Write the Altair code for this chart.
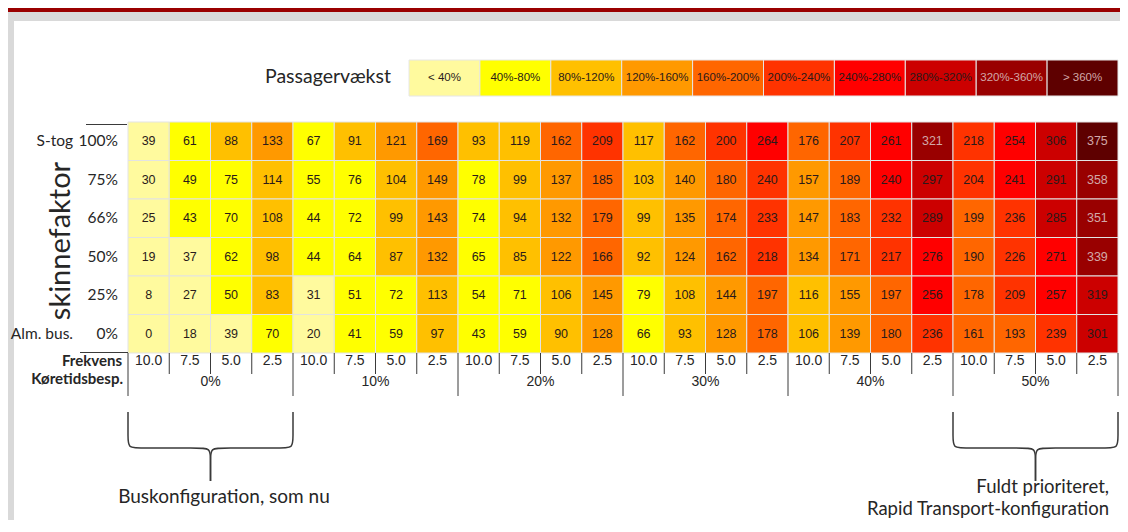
import altair as alt
import pandas as pd

# ---------------- data ----------------
row_labels = ["100%", "75%", "66%", "50%", "25%", "0%"]
row_prefix = ["S-tog", "", "", "", "", "Alm. bus."]
savings = ["0%", "10%", "20%", "30%", "40%", "50%"]
frequencies = ["10.0", "7.5", "5.0", "2.5"]

growth_100 = [39, 61, 88, 133, 67, 91, 121, 169, 93, 119, 162, 209, 117, 162, 200, 264, 176, 207, 261, 321, 218, 254, 306, 375]
growth_75 = [30, 49, 75, 114, 55, 76, 104, 149, 78, 99, 137, 185, 103, 140, 180, 239.6, 157, 189, 240.4, 297, 204, 241, 291, 358]
growth_66 = [25, 43, 70, 108, 44, 72, 99, 143, 74, 94, 132, 179, 99, 135, 174, 233, 147, 183, 232, 289, 199, 236, 285, 351]
growth_50 = [19, 37, 62, 98, 44, 64, 87, 132, 65, 85, 122, 166, 92, 124, 162, 218, 134, 171, 217, 276, 190, 226, 271, 339]
growth_25 = [8, 27, 50, 83, 31, 51, 72, 113, 54, 71, 106, 145, 79, 108, 144, 197, 116, 155, 197, 256, 178, 209, 257, 319]
growth_0 = [0, 18, 39, 70, 20, 41, 59, 97, 43, 59, 90, 128, 66, 93, 128, 178, 106, 139, 180, 236, 161, 193, 239, 301]
growth_rows = [growth_100, growth_75, growth_66, growth_50, growth_25, growth_0]

legend_title = "Passagervækst"
legend_labels = ["< 40%", "40%-80%", "80%-120%", "120%-160%", "160%-200%",
                 "200%-240%", "240%-280%", "280%-320%", "320%-360%", "> 360%"]
thresholds = [40, 80, 120, 160, 200, 240, 280, 320, 360]
bin_colors = ["#FFFA9E", "#FFFF00", "#FFC000", "#FF9900", "#FF6600",
              "#FF3300", "#FF0000", "#CC0000", "#990000", "#5E0000"]

y_title = "skinnefaktor"
x_row1_title = "Frekvens"
x_row2_title = "Køretidsbesp."
left_caption = ["Buskonfiguration, som nu"]
right_caption = ["Fuldt prioriteret,", "Rapid Transport-konfiguration"]

# ---------------- layout (page pixels) ----------------
W, H = 990, 231
CW, RH = W / 24, H / 6
GX, GY = 128, 122


def cx(px):
    return (px - GX) / CW


def ry(py):
    return (py - GY) / RH


XS = alt.Scale(domain=[0, 24], nice=False, zero=False)
YS = alt.Scale(domain=[0, 6], nice=False, zero=False, reverse=True)


def X(f):
    return alt.X(f, type="quantitative", scale=XS, axis=None)


def Y(f):
    return alt.Y(f, type="quantitative", scale=YS, axis=None)


CAL = "Lato"
ARIAL = "Liberation Sans"
INK = "#262626"

# ---------------- tables ----------------
cells = []
for r, vals in enumerate(growth_rows):
    for c, v in enumerate(vals):
        cells.append(dict(x=c, x2=c + 1, y=r, y2=r + 1, xc=c + 0.5, yc=r + 0.5,
                          value=v, label=str(int(round(v)))))
cells = pd.DataFrame(cells)

bg = pd.DataFrame([
    dict(x=cx(0), x2=cx(1128), y=ry(0), y2=ry(12), fill="#9A0000"),
    dict(x=cx(5), x2=cx(1128), y=ry(12), y2=ry(21), fill="#D9D9D9"),
    dict(x=cx(5), x2=cx(14), y=ry(12), y2=ry(540), fill="#D9D9D9"),
])

LX0, LW = 409, 70.9
leg = pd.DataFrame([dict(x=cx(LX0 + i * LW), x2=cx(LX0 + (i + 1) * LW),
                         xc=cx(LX0 + (i + 0.5) * LW), y=ry(60), y2=ry(96), yc=ry(78),
                         label=lab, lo=(thresholds[i - 1] if i > 0 else 0))
                    for i, lab in enumerate(legend_labels)])

rowlab = pd.DataFrame([dict(x=cx(118), y=r + 0.5, text=t) for r, t in enumerate(row_labels)])
rowpre = pd.DataFrame([dict(x=cx(73), y=r + 0.5, text=t) for r, t in enumerate(row_prefix) if t])

ticks = []
for b in range(25):
    long_line = b % 4 == 0
    ticks.append(dict(x=b, y=6, y2=ry(396 if long_line else 374)))
ticks = pd.DataFrame(ticks)

freq_lab = pd.DataFrame([dict(x=c + 0.5, y=ry(361), text=frequencies[c % 4]) for c in range(24)])
grp_lab = pd.DataFrame([dict(x=g * 4 + 2, y=ry(382), text=s) for g, s in enumerate(savings)])
xtitles = pd.DataFrame([dict(x=cx(122), y=ry(361), text=x_row1_title),
                        dict(x=cx(123), y=ry(379), text=x_row2_title)])
hlines = pd.DataFrame([dict(x=cx(86), x2=cx(127), y=ry(124.5)),
                       dict(x=cx(80), x2=cx(128), y=ry(352.5))])


def bracket(a, b, name):
    m = (a + b) / 2
    r = 0.3
    yt, ya, yh, ym, yp = ry(412), ry(438), ry(448), ry(459), ry(481)
    pts = []
    left = [(a, yt), (a, ya), (a, yh), (a + r, yh), (m - r, yh), (m, yh), (m, ym), (m, yp)]
    right = [(b, yt), (b, ya), (b, yh), (b - r, yh), (m + r, yh), (m, yh), (m, ym), (m, yp)]
    for side, seq in (("l", left), ("r", right)):
        for k, (px, py) in enumerate(seq):
            pts.append(dict(x=px, y=py, k=k, g=name + side))
    return pts


brk = pd.DataFrame(bracket(0, 4, "A") + bracket(20, 24, "B"))

cap_left = pd.DataFrame([dict(x=cx(224), y=ry(497), text=left_caption[0])])
cap_right = pd.DataFrame([dict(x=cx(1109), y=ry(487), text=right_caption[0]),
                          dict(x=cx(1109), y=ry(509), text=right_caption[1])])
ytitle = pd.DataFrame([dict(x=cx(61), y=ry(241), text=y_title)])
ltitle = pd.DataFrame([dict(x=cx(265), y=ry(77), text=legend_title)])

# ---------------- layers ----------------
bg_l = alt.Chart(bg).mark_rect().encode(x=X("x"), x2="x2", y=Y("y"), y2="y2",
                                        color=alt.Color("fill:N", scale=None))

color_scale = alt.Scale(type="threshold", domain=thresholds, range=bin_colors)

leg_box = alt.Chart(leg).mark_rect(stroke="#E6E6E6", strokeWidth=1).encode(
    x=X("x"), x2="x2", y=Y("y"), y2="y2",
    color=alt.Color("lo:Q", scale=color_scale, legend=None))
leg_txt = alt.Chart(leg).mark_text(font=ARIAL, fontSize=11.5).encode(
    x=X("xc"), y=Y("yc"), text="label:N",
    color=alt.condition("datum.lo >= 320", alt.value("#D2A8A8"), alt.value("#2A1A1A")))
leg_title = alt.Chart(ltitle).mark_text(font=CAL, fontSize=19.5, align="left", color=INK).encode(
    x=X("x"), y=Y("y"), text="text:N")

heat = alt.Chart(cells).mark_rect(stroke="#E3E3E3", strokeWidth=1).encode(
    x=X("x"), x2="x2", y=Y("y"), y2="y2",
    color=alt.Color("value:Q", scale=color_scale, legend=None))
heat_txt = alt.Chart(cells).mark_text(font=ARIAL, fontSize=12.5).encode(
    x=X("xc"), y=Y("yc"), text="label:N",
    color=alt.condition("datum.value >= 320", alt.value("#D2A8A8"), alt.value("#2A1A1A")))

row_l = alt.Chart(rowlab).mark_text(font=CAL, fontSize=15.5, align="right", color=INK).encode(
    x=X("x"), y=Y("y"), text="text:N")
row_p = alt.Chart(rowpre).mark_text(font=CAL, fontSize=15.5, align="right", color=INK).encode(
    x=X("x"), y=Y("y"), text="text:N")
y_t = alt.Chart(ytitle).mark_text(font=CAL, fontSize=29, angle=270, color=INK).encode(
    x=X("x"), y=Y("y"), text="text:N")

tick_l = alt.Chart(ticks).mark_rule(color="#3A3A3A", strokeWidth=1).encode(
    x=X("x"), y=Y("y"), y2="y2")
hline_l = alt.Chart(hlines).mark_rule(color="#3A3A3A", strokeWidth=1).encode(
    x=X("x"), x2="x2", y=Y("y"))
freq_l = alt.Chart(freq_lab).mark_text(font=ARIAL, fontSize=14, color=INK).encode(
    x=X("x"), y=Y("y"), text="text:N")
grp_l = alt.Chart(grp_lab).mark_text(font=ARIAL, fontSize=14, color=INK).encode(
    x=X("x"), y=Y("y"), text="text:N")
xt_l = alt.Chart(xtitles).mark_text(font=CAL, fontSize=15, fontWeight="bold", align="right", color=INK).encode(
    x=X("x"), y=Y("y"), text="text:N")

brk_l = alt.Chart(brk).mark_line(color="#3A3A3A", strokeWidth=1.5, interpolate="basis").encode(
    x=X("x"), y=Y("y"), detail="g:N", order="k:Q")
capl = alt.Chart(cap_left).mark_text(font=CAL, fontSize=19, color=INK).encode(
    x=X("x"), y=Y("y"), text="text:N")
capr = alt.Chart(cap_right).mark_text(font=CAL, fontSize=18.5, align="right", color=INK).encode(
    x=X("x"), y=Y("y"), text="text:N")

chart = alt.layer(
    bg_l, leg_box, leg_txt, leg_title, heat, heat_txt, row_l, row_p, y_t,
    tick_l, hline_l, freq_l, grp_l, xt_l, brk_l, capl, capr
).properties(
    width=W, height=H,
    autosize=alt.AutoSizeParams(type="none"),
    padding={"left": GX - 8, "top": GY - 8, "right": 1112 - (GX - 8) - W, "bottom": 512 - (GY - 8) - H},
    background="white",
).configure_view(stroke=None)

chart.save("out.html", embed_options={"renderer": "svg", "actions": False})
